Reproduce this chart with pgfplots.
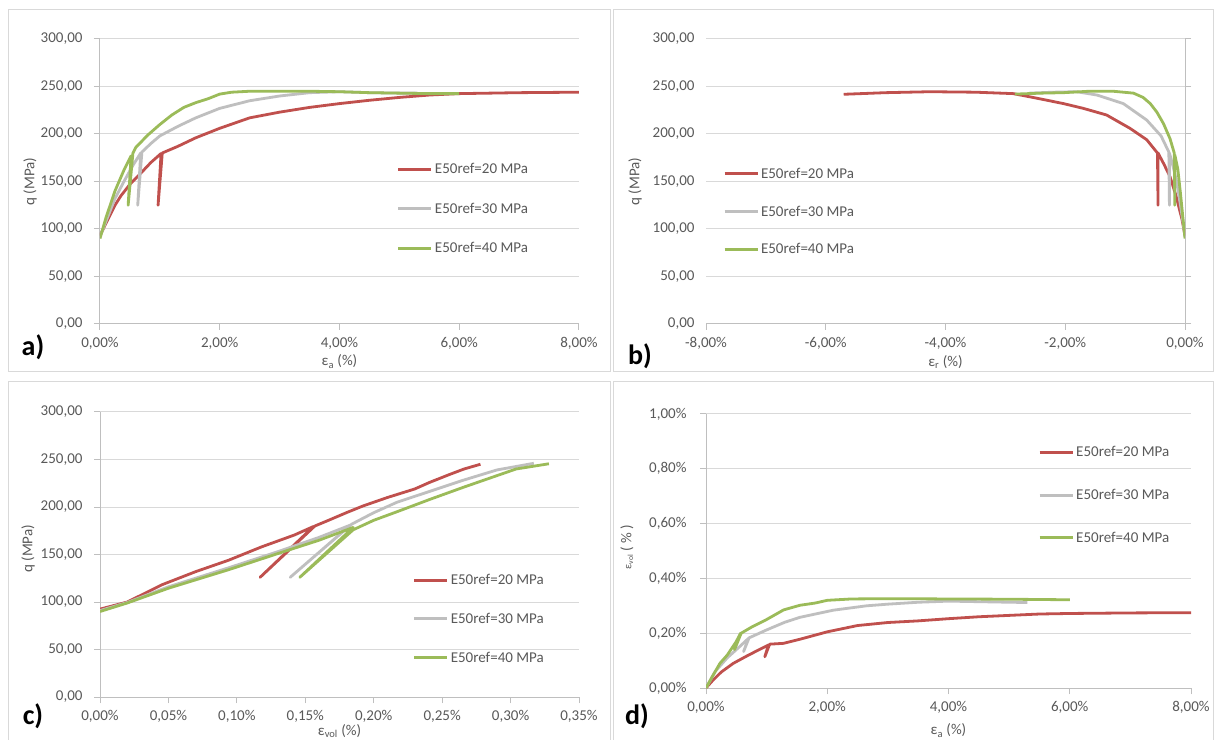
\documentclass[border=0pt]{standalone}
\usepackage{fontspec}
\setmainfont{Carlito}
\usepackage{pgfplots}
\pgfplotsset{compat=1.18}
\definecolor{cred}{RGB}{192,80,77}
\definecolor{cgray}{RGB}{191,191,191}
\definecolor{cgreen}{RGB}{155,187,89}
\definecolor{gridc}{RGB}{217,217,217}
\definecolor{axl}{RGB}{191,191,191}
\definecolor{txt}{RGB}{89,89,89}
\definecolor{frame}{RGB}{217,217,217}
\pgfplotsset{
  exbase/.style={
    scale only axis, width=479pt, height=285pt,
    enlargelimits=false,
    axis line style={draw=axl, line width=1pt},
    ymajorgrids, major grid style={draw=gridc, line width=1pt},
    tick align=outside, major tick length=6pt,
    major tick style={draw=axl, line width=1pt},
    tick label style={font=\fontsize{15}{18}\selectfont, text=txt},
    label style={font=\fontsize{15}{18}\selectfont, text=txt},
    /pgf/number format/assume math mode=true,
    /pgf/number format/use comma,
    /pgf/number format/fixed,
    /pgf/number format/fixed zerofill,
    /pgf/number format/precision=2,
    /pgf/number format/1000 sep={},
    scaled ticks=false,
    xticklabel={\pgfmathprintnumber{\tick}\%},
    yticklabel style={anchor=east, xshift=-8pt},
    xticklabel style={anchor=north, yshift=-4pt},
    legend style={draw=none, fill=none, inner sep=0pt, outer sep=0pt,
      font=\fontsize{15}{18}\selectfont, text=txt, row sep=22pt, anchor=west},
    legend cell align=left,
    legend image code/.code={\draw[#1, line width=3pt] (0pt,0pt) -- (33pt,0pt);},
  },
  ln/.style={line width=2.8pt, line join=round, mark=none},
}
\begin{document}
\begin{tikzpicture}[x=1pt,y=1pt]
\useasboundingbox (0,0) rectangle (1217,739);
\clip (0,0) rectangle (1217,739);
\fill[white] (0,0) rectangle (1217,739);
\draw[frame, line width=1pt] (8.5,367.3) rectangle (610.5,729);
\draw[frame, line width=1pt] (613,367.3) rectangle (1213,729);
\draw[frame, line width=1pt] (8.5,-5) rectangle (610.5,357.3);
\draw[frame, line width=1pt] (613,-5) rectangle (1213,357.3);

% ---------- a)
\begin{axis}[exbase, at={(100pt,415pt)}, anchor=south west,
  xmin=0, xmax=8, ymin=0, ymax=300,
  xtick={0,2,4,6,8}, ytick={0,50,100,150,200,250,300},
  axis x line*=bottom, axis y line*=left,
  xlabel={ε\textsubscript{a} (\%)}, ylabel={q (MPa)},
  xlabel style={at={(axis description cs:0.5,-0.132)}, anchor=center},
  ylabel style={at={(axis description cs:-0.146,0.5)}, anchor=center},
  legend style={at={(0.62,0.404)}, row sep=23.5pt}]
\addplot[ln, cred] coordinates {(0,93) (0.1,106) (0.25,125) (0.35,135) (0.5,147) (0.7,160) (0.85,170) (1.02,179.5) (0.97,125) (1.04,180) (1.3,187) (1.6,196) (2.0,206) (2.5,217) (3.0,223) (3.5,228) (4.0,232) (4.5,235.5) (5.0,238.5) (5.5,241) (6.0,242.5) (7.0,243.5) (8.0,244)};
\addlegendentry{E50ref=20 MPa}
\addplot[ln, cgray] coordinates {(0,92) (0.1,108) (0.25,132) (0.4,150) (0.55,167) (0.68,180) (0.63,125) (0.7,181) (0.85,190) (1.0,198) (1.3,208) (1.6,217) (2.0,227) (2.5,235) (3.0,240) (3.5,243.5) (4.0,244.5) (4.5,243.5) (5.0,243) (5.3,243)};
\addlegendentry{E50ref=30 MPa}
\addplot[ln, cgreen] coordinates {(0,90) (0.1,112) (0.25,140) (0.4,162) (0.52,177) (0.47,125) (0.55,180) (0.6,186) (0.8,199) (1.0,210) (1.2,220) (1.4,228) (1.6,233) (1.8,237) (2.0,242) (2.2,244) (2.5,245) (3.0,245) (3.5,245) (4.0,244.5) (4.5,243.5) (5.0,243) (5.5,242.5) (6.0,242.5)};
\addlegendentry{E50ref=40 MPa}
\end{axis}

% ---------- b)
\begin{axis}[exbase, at={(706pt,415pt)}, anchor=south west,
  xmin=-8, xmax=0, ymin=0, ymax=300,
  xtick={-8,-6,-4,-2,0}, ytick={0,50,100,150,200,250,300},
  axis x line*=bottom, axis y line*=right, yticklabels={},
  xlabel={ε\textsubscript{r} (\%)}, ylabel={q (MPa)},
  xlabel style={at={(axis description cs:0.5,-0.132)}, anchor=center},
  ylabel style={at={(axis description cs:-0.148,0.5)}, anchor=center},
  legend style={at={(0.0355,0.394)}}]
\addplot[ln, cred] coordinates {(0,93) (-0.05,110) (-0.15,135) (-0.25,155) (-0.35,168) (-0.45,180) (-0.45,125) (-0.46,180) (-0.64,194) (-0.92,206) (-1.31,220) (-1.7,227) (-2.03,232) (-2.5,238) (-2.87,242.5) (-3.5,244) (-4.26,244.5) (-5.0,243.5) (-5.7,241.8)};
\addlegendentry{E50ref=20 MPa}
\addplot[ln, cgray] coordinates {(0,92) (-0.04,110) (-0.08,127) (-0.14,150) (-0.2,166) (-0.26,180) (-0.26,125) (-0.27,181) (-0.4,198) (-0.64,214.7) (-1.03,232) (-1.47,241) (-1.81,244.5) (-2.2,244) (-2.6,243)};
\addlegendentry{E50ref=30 MPa}
\addplot[ln, cgreen] coordinates {(0,90) (-0.04,115) (-0.08,140) (-0.12,163) (-0.17,178) (-0.17,125) (-0.18,180) (-0.25,195) (-0.36,211) (-0.47,223) (-0.58,232) (-0.7,238.5) (-0.86,243) (-1.2,245) (-1.6,245) (-2.03,243.5) (-2.4,243) (-2.84,242)};
\addlegendentry{E50ref=40 MPa}
\end{axis}
% tick labels for b) on the left side
\begin{axis}[exbase, at={(706pt,415pt)}, anchor=south west,
  xmin=-8, xmax=0, ymin=0, ymax=300,
  ymajorgrids=false, hide x axis, axis y line*=left,
  y axis line style={draw=none}, major tick length=0pt,
  ytick={0,50,100,150,200,250,300}]
\end{axis}

% ---------- c)
\begin{axis}[exbase, at={(100pt,42pt)}, anchor=south west,
  xmin=0, xmax=0.35, ymin=0, ymax=300,
  xtick={0,0.05,0.1,0.15,0.2,0.25,0.3,0.35}, ytick={0,50,100,150,200,250,300},
  axis x line*=bottom, axis y line*=left,
  xlabel={ε\textsubscript{vol} (\%)}, ylabel={q (MPa)},
  xlabel style={at={(axis description cs:0.5,-0.12)}, anchor=center},
  ylabel style={at={(axis description cs:-0.15,0.52)}, anchor=center},
  legend style={at={(0.653,0.274)}, row sep=23pt}]
\addplot[ln, cred] coordinates {(0,92.5) (0.02,100) (0.045,118) (0.07,132) (0.094,144) (0.118,158) (0.142,170.5) (0.156,179.5) (0.117,126) (0.157,180) (0.167,186) (0.18,194) (0.192,201) (0.21,210) (0.23,219) (0.241,226) (0.255,234) (0.266,240) (0.278,245)};
\addlegendentry{E50ref=20 MPa}
\addplot[ln, cgray] coordinates {(0,91) (0.02,99.5) (0.05,116) (0.094,136) (0.13,153) (0.16,168) (0.183,181) (0.139,126) (0.184,182) (0.2,194) (0.217,205) (0.24,216) (0.265,228) (0.29,239) (0.317,246)};
\addlegendentry{E50ref=30 MPa}
\addplot[ln, cgreen] coordinates {(0,90) (0.02,99) (0.05,114.5) (0.094,134) (0.13,151) (0.16,165) (0.185,178.5) (0.146,126) (0.185,176) (0.2,186) (0.217,195) (0.241,208) (0.266,221) (0.29,233) (0.304,240) (0.328,245.5)};
\addlegendentry{E50ref=40 MPa}
\end{axis}

% ---------- d)
\begin{axis}[exbase, at={(706pt,51pt)}, anchor=south west, width=485pt, height=274pt,
  xmin=0, xmax=8, ymin=0, ymax=1,
  xtick={0,2,4,6,8}, ytick={0,0.2,0.4,0.6,0.8,1},
  yticklabel={\pgfmathprintnumber{\tick}\%},
  yticklabel style={xshift=-2pt},
  axis x line*=bottom, axis y line*=left,
  xlabel={ε\textsubscript{a} (\%)}, ylabel={{\fontsize{11}{12}\selectfont ε\textsubscript{vol}} ( \% )},
  xlabel style={at={(axis description cs:0.5,-0.155)}, anchor=center},
  ylabel style={at={(axis description cs:-0.163,0.515)}, anchor=center},
  legend style={at={(0.685,0.704)}, row sep=27pt}]
\addplot[ln, cred] coordinates {(0,0) (0.1,0.025) (0.25,0.058) (0.45,0.09) (0.7,0.12) (1.03,0.157) (0.97,0.114) (1.05,0.16) (1.28,0.163) (1.55,0.178) (2.0,0.205) (2.5,0.228) (3.0,0.239) (3.5,0.245) (4.0,0.253) (4.5,0.26) (5.0,0.265) (5.5,0.27) (6.0,0.272) (7.0,0.274) (8.0,0.275)};
\addlegendentry{E50ref=20 MPa}
\addplot[ln, cgray] coordinates {(0,0) (0.15,0.06) (0.35,0.11) (0.55,0.15) (0.7,0.181) (0.62,0.133) (0.71,0.183) (1.0,0.212) (1.3,0.24) (1.55,0.258) (2.1,0.284) (2.65,0.3) (3.0,0.306) (3.5,0.313) (4.0,0.317) (4.5,0.315) (5.0,0.313) (5.3,0.312)};
\addlegendentry{E50ref=30 MPa}
\addplot[ln, cgreen] coordinates {(0,0) (0.1,0.04) (0.23,0.09) (0.35,0.12) (0.5,0.17) (0.57,0.2) (0.47,0.14) (0.58,0.2) (0.75,0.222) (1.0,0.25) (1.28,0.285) (1.55,0.302) (1.8,0.31) (2.0,0.32) (2.4,0.325) (3.0,0.326) (4.0,0.325) (5.0,0.324) (6.0,0.322)};
\addlegendentry{E50ref=40 MPa}
\end{axis}

\node[font=\bfseries\fontsize{28}{30}\selectfont] at (33,392) {a)};
\node[font=\bfseries\fontsize{28}{30}\selectfont] at (640,383) {b)};
\node[font=\bfseries\fontsize{28}{30}\selectfont] at (33,23) {c)};
\node[font=\bfseries\fontsize{28}{30}\selectfont] at (637,23) {d)};
\end{tikzpicture}
\end{document}
